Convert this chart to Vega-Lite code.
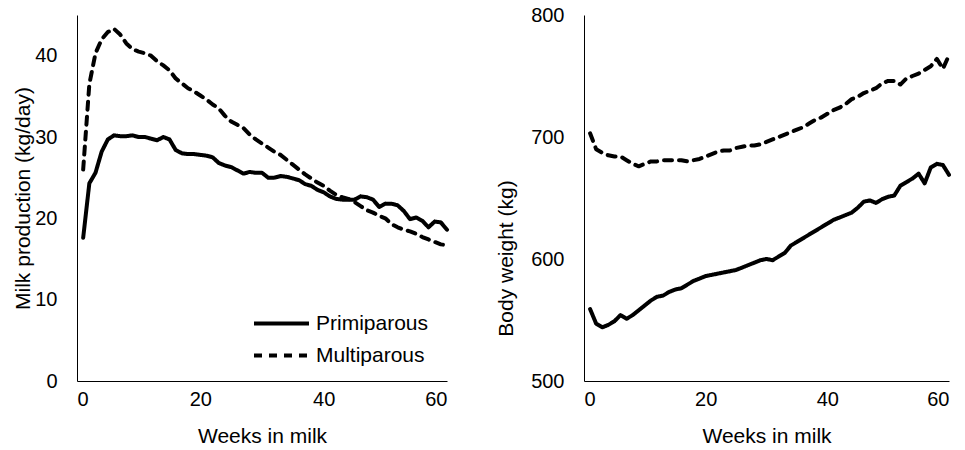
{
  "$schema": "https://vega.github.io/schema/vega-lite/v6.json",
  "background": "white",
  "padding": {"left": 12, "top": 5, "right": 0, "bottom": 5},
  "datasets": {
    "cows": [
      {"week":1,"parity":"Primiparous","milk":17.6,"bw":559},
      {"week":2,"parity":"Primiparous","milk":24.3,"bw":547},
      {"week":3,"parity":"Primiparous","milk":25.6,"bw":544},
      {"week":4,"parity":"Primiparous","milk":28.2,"bw":546},
      {"week":5,"parity":"Primiparous","milk":29.7,"bw":549},
      {"week":6,"parity":"Primiparous","milk":30.2,"bw":554},
      {"week":7,"parity":"Primiparous","milk":30.1,"bw":551},
      {"week":8,"parity":"Primiparous","milk":30.1,"bw":554},
      {"week":9,"parity":"Primiparous","milk":30.2,"bw":558},
      {"week":10,"parity":"Primiparous","milk":30.0,"bw":562},
      {"week":11,"parity":"Primiparous","milk":30.0,"bw":566},
      {"week":12,"parity":"Primiparous","milk":29.8,"bw":569},
      {"week":13,"parity":"Primiparous","milk":29.6,"bw":570},
      {"week":14,"parity":"Primiparous","milk":30.0,"bw":573},
      {"week":15,"parity":"Primiparous","milk":29.7,"bw":575},
      {"week":16,"parity":"Primiparous","milk":28.4,"bw":576},
      {"week":17,"parity":"Primiparous","milk":28.0,"bw":579},
      {"week":18,"parity":"Primiparous","milk":27.9,"bw":582},
      {"week":19,"parity":"Primiparous","milk":27.9,"bw":584},
      {"week":20,"parity":"Primiparous","milk":27.8,"bw":586},
      {"week":21,"parity":"Primiparous","milk":27.7,"bw":587},
      {"week":22,"parity":"Primiparous","milk":27.5,"bw":588},
      {"week":23,"parity":"Primiparous","milk":26.8,"bw":589},
      {"week":24,"parity":"Primiparous","milk":26.5,"bw":590},
      {"week":25,"parity":"Primiparous","milk":26.3,"bw":591},
      {"week":26,"parity":"Primiparous","milk":25.9,"bw":593},
      {"week":27,"parity":"Primiparous","milk":25.5,"bw":595},
      {"week":28,"parity":"Primiparous","milk":25.7,"bw":597},
      {"week":29,"parity":"Primiparous","milk":25.6,"bw":599},
      {"week":30,"parity":"Primiparous","milk":25.6,"bw":600},
      {"week":31,"parity":"Primiparous","milk":25.0,"bw":599},
      {"week":32,"parity":"Primiparous","milk":25.0,"bw":602},
      {"week":33,"parity":"Primiparous","milk":25.2,"bw":605},
      {"week":34,"parity":"Primiparous","milk":25.1,"bw":611},
      {"week":35,"parity":"Primiparous","milk":24.9,"bw":614},
      {"week":36,"parity":"Primiparous","milk":24.7,"bw":617},
      {"week":37,"parity":"Primiparous","milk":24.2,"bw":620},
      {"week":38,"parity":"Primiparous","milk":24.0,"bw":623},
      {"week":39,"parity":"Primiparous","milk":23.5,"bw":626},
      {"week":40,"parity":"Primiparous","milk":23.2,"bw":629},
      {"week":41,"parity":"Primiparous","milk":22.7,"bw":632},
      {"week":42,"parity":"Primiparous","milk":22.4,"bw":634},
      {"week":43,"parity":"Primiparous","milk":22.3,"bw":636},
      {"week":44,"parity":"Primiparous","milk":22.3,"bw":638},
      {"week":45,"parity":"Primiparous","milk":22.3,"bw":642},
      {"week":46,"parity":"Primiparous","milk":22.7,"bw":647},
      {"week":47,"parity":"Primiparous","milk":22.6,"bw":648},
      {"week":48,"parity":"Primiparous","milk":22.3,"bw":646},
      {"week":49,"parity":"Primiparous","milk":21.4,"bw":649},
      {"week":50,"parity":"Primiparous","milk":21.8,"bw":651},
      {"week":51,"parity":"Primiparous","milk":21.8,"bw":652},
      {"week":52,"parity":"Primiparous","milk":21.6,"bw":660},
      {"week":53,"parity":"Primiparous","milk":20.9,"bw":663},
      {"week":54,"parity":"Primiparous","milk":19.9,"bw":666},
      {"week":55,"parity":"Primiparous","milk":20.1,"bw":670},
      {"week":56,"parity":"Primiparous","milk":19.7,"bw":662},
      {"week":57,"parity":"Primiparous","milk":18.9,"bw":675},
      {"week":58,"parity":"Primiparous","milk":19.6,"bw":678},
      {"week":59,"parity":"Primiparous","milk":19.5,"bw":677},
      {"week":60,"parity":"Primiparous","milk":18.6,"bw":669},
      {"week":1,"parity":"Multiparous","milk":26.0,"bw":703},
      {"week":2,"parity":"Multiparous","milk":36.5,"bw":690},
      {"week":3,"parity":"Multiparous","milk":40.3,"bw":687},
      {"week":4,"parity":"Multiparous","milk":42.0,"bw":685},
      {"week":5,"parity":"Multiparous","milk":42.9,"bw":684},
      {"week":6,"parity":"Multiparous","milk":43.3,"bw":684},
      {"week":7,"parity":"Multiparous","milk":42.6,"bw":681},
      {"week":8,"parity":"Multiparous","milk":41.5,"bw":678},
      {"week":9,"parity":"Multiparous","milk":40.8,"bw":676},
      {"week":10,"parity":"Multiparous","milk":40.5,"bw":678},
      {"week":11,"parity":"Multiparous","milk":40.3,"bw":680},
      {"week":12,"parity":"Multiparous","milk":40.0,"bw":680},
      {"week":13,"parity":"Multiparous","milk":39.3,"bw":681},
      {"week":14,"parity":"Multiparous","milk":38.8,"bw":681},
      {"week":15,"parity":"Multiparous","milk":38.2,"bw":681},
      {"week":16,"parity":"Multiparous","milk":37.2,"bw":681},
      {"week":17,"parity":"Multiparous","milk":36.6,"bw":680},
      {"week":18,"parity":"Multiparous","milk":36.0,"bw":681},
      {"week":19,"parity":"Multiparous","milk":35.6,"bw":682},
      {"week":20,"parity":"Multiparous","milk":35.1,"bw":684},
      {"week":21,"parity":"Multiparous","milk":34.6,"bw":686},
      {"week":22,"parity":"Multiparous","milk":34.0,"bw":688},
      {"week":23,"parity":"Multiparous","milk":33.5,"bw":689},
      {"week":24,"parity":"Multiparous","milk":32.6,"bw":689},
      {"week":25,"parity":"Multiparous","milk":31.9,"bw":691},
      {"week":26,"parity":"Multiparous","milk":31.5,"bw":692},
      {"week":27,"parity":"Multiparous","milk":31.1,"bw":693},
      {"week":28,"parity":"Multiparous","milk":30.3,"bw":693},
      {"week":29,"parity":"Multiparous","milk":29.7,"bw":694},
      {"week":30,"parity":"Multiparous","milk":29.2,"bw":696},
      {"week":31,"parity":"Multiparous","milk":28.7,"bw":698},
      {"week":32,"parity":"Multiparous","milk":28.2,"bw":700},
      {"week":33,"parity":"Multiparous","milk":27.8,"bw":702},
      {"week":34,"parity":"Multiparous","milk":27.2,"bw":704},
      {"week":35,"parity":"Multiparous","milk":26.6,"bw":706},
      {"week":36,"parity":"Multiparous","milk":26.0,"bw":708},
      {"week":37,"parity":"Multiparous","milk":25.4,"bw":711},
      {"week":38,"parity":"Multiparous","milk":24.9,"bw":714},
      {"week":39,"parity":"Multiparous","milk":24.4,"bw":716},
      {"week":40,"parity":"Multiparous","milk":24.0,"bw":719},
      {"week":41,"parity":"Multiparous","milk":23.4,"bw":722},
      {"week":42,"parity":"Multiparous","milk":22.9,"bw":724},
      {"week":43,"parity":"Multiparous","milk":22.6,"bw":727},
      {"week":44,"parity":"Multiparous","milk":22.4,"bw":731},
      {"week":45,"parity":"Multiparous","milk":22.0,"bw":733},
      {"week":46,"parity":"Multiparous","milk":21.5,"bw":736},
      {"week":47,"parity":"Multiparous","milk":21.0,"bw":738},
      {"week":48,"parity":"Multiparous","milk":20.7,"bw":740},
      {"week":49,"parity":"Multiparous","milk":20.3,"bw":744},
      {"week":50,"parity":"Multiparous","milk":20.0,"bw":746},
      {"week":51,"parity":"Multiparous","milk":19.3,"bw":746},
      {"week":52,"parity":"Multiparous","milk":18.9,"bw":743},
      {"week":53,"parity":"Multiparous","milk":18.6,"bw":748},
      {"week":54,"parity":"Multiparous","milk":18.4,"bw":750},
      {"week":55,"parity":"Multiparous","milk":18.1,"bw":752},
      {"week":56,"parity":"Multiparous","milk":17.7,"bw":755},
      {"week":57,"parity":"Multiparous","milk":17.4,"bw":758},
      {"week":58,"parity":"Multiparous","milk":17.1,"bw":764},
      {"week":59,"parity":"Multiparous","milk":16.8,"bw":756},
      {"week":60,"parity":"Multiparous","milk":16.7,"bw":767}
    ]
  },
  "data": {"name": "cows"},
  "spacing": 46,
  "resolve": {"legend": {"strokeDash": "independent"}, "scale": {"strokeDash": "independent"}},
  "hconcat": [
    {
      "width": 370,
      "height": 366,
      "encoding": {
        "x": {"field": "week", "type": "quantitative", "title": "Weeks in milk",
              "scale": {"domain": [0, 60], "nice": false},
              "axis": {"values": [0, 20, 40, 60]}},
        "y": {"field": "milk", "type": "quantitative", "title": "Milk production (kg/day)",
              "scale": {"domain": [0, 45], "nice": false},
              "axis": {"values": [0, 10, 20, 30, 40], "titlePadding": 1}}
      },
      "resolve": {"legend": {"strokeDash": "independent"}, "scale": {"strokeDash": "independent"}},
      "layer": [
        {
          "transform": [{"filter": "datum.parity === 'Primiparous'"}],
          "mark": {"type": "line", "color": "black", "strokeWidth": 4, "strokeCap": "round", "strokeJoin": "round"},
          "encoding": {
            "strokeDash": {"field": "parity", "type": "nominal",
              "scale": {"domain": ["Primiparous"], "range": [[1, 0]]},
              "legend": {"title": null, "orient": "none", "legendX": 175, "legendY": 279}}
          }
        },
        {
          "transform": [{"filter": "datum.parity === 'Multiparous'"}],
          "mark": {"type": "line", "color": "black", "strokeWidth": 4, "strokeCap": "round", "strokeJoin": "round"},
          "encoding": {
            "strokeDash": {"field": "parity", "type": "nominal",
              "scale": {"domain": ["Multiparous"], "range": [[8, 7]]},
              "legend": {"title": null, "orient": "none", "legendX": 175, "legendY": 311}}
          }
        }
      ]
    },
    {
      "width": 365,
      "height": 366,
      "mark": {"type": "line", "color": "black", "strokeWidth": 4, "strokeCap": "round", "strokeJoin": "round"},
      "encoding": {
        "x": {"field": "week", "type": "quantitative", "title": "Weeks in milk",
              "scale": {"domain": [0, 60], "nice": false},
              "axis": {"values": [0, 20, 40, 60]}},
        "y": {"field": "bw", "type": "quantitative", "title": "Body weight (kg)",
              "scale": {"domain": [500, 800], "nice": false, "zero": false},
              "axis": {"values": [500, 600, 700, 800], "titlePadding": 14, "titleY": 243}},
        "strokeDash": {"field": "parity", "type": "nominal",
              "scale": {"domain": ["Primiparous", "Multiparous"], "range": [[1, 0], [8, 7]]},
              "legend": null}
      }
    }
  ],
  "config": {
    "view": {"stroke": null},
    "font": "Liberation Sans",
    "legend": {
      "symbolType": "stroke", "symbolSize": 3025, "symbolStrokeWidth": 4,
      "symbolStrokeColor": "black", "labelFontSize": 21, "labelColor": "black",
      "labelFont": "Liberation Sans", "labelOffset": 5
    },
    "axis": {
      "grid": false,
      "ticks": false,
      "domainColor": "black",
      "domainWidth": 1,
      "labelFont": "Liberation Sans",
      "labelFontSize": 20,
      "labelColor": "black",
      "titleFont": "Liberation Sans",
      "titleFontSize": 21,
      "titleFontWeight": "normal",
      "titleColor": "black"
    },
    "axisX": {"labelPadding": 8, "titlePadding": 16},
    "axisY": {"labelPadding": 20}
  }
}
